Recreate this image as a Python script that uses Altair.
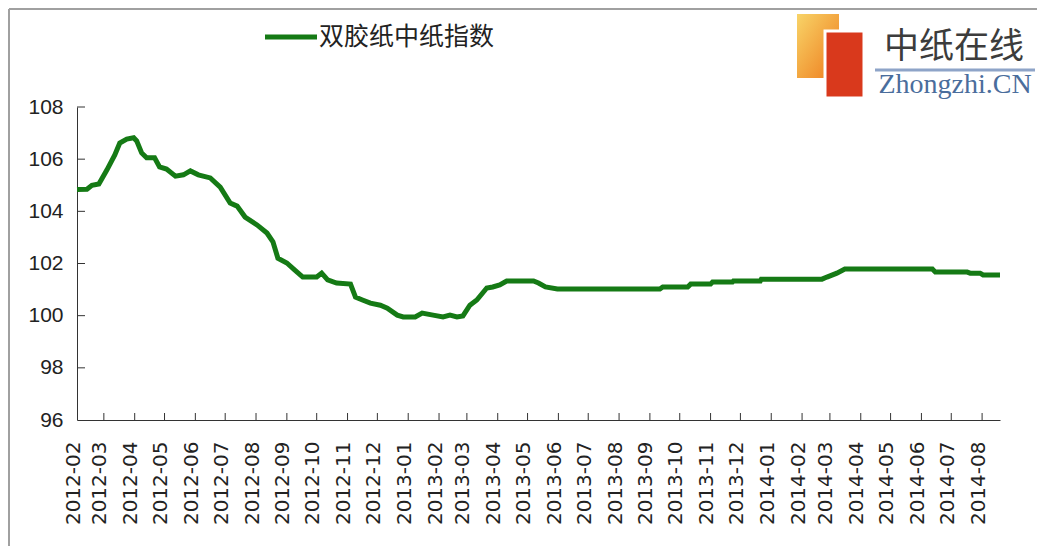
import altair as alt
import pandas as pd

# ---- data ----
dates = [
    "2012-02-03", "2012-02-13", "2012-02-18", "2012-02-25", "2012-03-04", "2012-03-12",
    "2012-03-17", "2012-03-24", "2012-03-31", "2012-04-03", "2012-04-08", "2012-04-13",
    "2012-04-21", "2012-04-26", "2012-05-03", "2012-05-12", "2012-05-20", "2012-05-27",
    "2012-06-04", "2012-06-16", "2012-06-26", "2012-07-06", "2012-07-13", "2012-07-21",
    "2012-08-02", "2012-08-12", "2012-08-18", "2012-08-23", "2012-09-01", "2012-09-09",
    "2012-09-17", "2012-10-01", "2012-10-06", "2012-10-12", "2012-10-21", "2012-11-04",
    "2012-11-09", "2012-11-16", "2012-11-24", "2012-12-04", "2012-12-11", "2012-12-21",
    "2012-12-27", "2013-01-08", "2013-01-15", "2013-01-26", "2013-02-05", "2013-02-12",
    "2013-02-19", "2013-02-25", "2013-03-04", "2013-03-11", "2013-03-21", "2013-03-27",
    "2013-04-03", "2013-04-10", "2013-05-07", "2013-05-12", "2013-05-19", "2013-05-31",
    "2013-09-11", "2013-09-14", "2013-10-09", "2013-10-12", "2013-11-01", "2013-11-03",
    "2013-11-23", "2013-11-24", "2013-12-21", "2013-12-22", "2014-02-21", "2014-02-26",
    "2014-03-08", "2014-03-16", "2014-06-12", "2014-06-15", "2014-07-17", "2014-07-20",
    "2014-07-30", "2014-08-02", "2014-08-19",
]
values = [
    104.84, 104.85, 105.00, 105.05, 105.58, 106.16,
    106.62, 106.77, 106.82, 106.70, 106.24, 106.05,
    106.05, 105.70, 105.62, 105.35, 105.40, 105.55,
    105.40, 105.28, 104.93, 104.32, 104.20, 103.78,
    103.48, 103.17, 102.83, 102.20, 102.02, 101.75,
    101.48, 101.48, 101.63, 101.37, 101.25, 101.21,
    100.71, 100.60, 100.48, 100.40, 100.29, 100.02,
    99.95, 99.95, 100.10, 100.02, 99.95, 100.02,
    99.95, 99.99, 100.40, 100.60, 101.06, 101.10,
    101.18, 101.33, 101.33, 101.25, 101.10, 101.02,
    101.02, 101.10, 101.10, 101.21, 101.21, 101.29,
    101.29, 101.33, 101.33, 101.40, 101.40, 101.48,
    101.63, 101.79, 101.79, 101.67, 101.67, 101.63,
    101.63, 101.56, 101.56,
]
series_name = "双胶纸中纸指数"

x_start = "2012-02-03"
x_end = "2014-08-19"
month_ticks = [
    "2012-03-01", "2012-04-01", "2012-05-01", "2012-06-01", "2012-07-01", "2012-08-01",
    "2012-09-01", "2012-10-01", "2012-11-01", "2012-12-01", "2013-01-01", "2013-02-01",
    "2013-03-01", "2013-04-01", "2013-05-01", "2013-06-01", "2013-07-01", "2013-08-01",
    "2013-09-01", "2013-10-01", "2013-11-01", "2013-12-01", "2014-01-01", "2014-02-01",
    "2014-03-01", "2014-04-01", "2014-05-01", "2014-06-01", "2014-07-01", "2014-08-01",
]
label_dates = [x_start] + month_ticks
y_ticks = [96, 98, 100, 102, 104, 106, 108]

# ---- layout ----
W, H = 923, 313
GREEN = "#157a15"
AXIS = "#333333"


def dt(s):
    y, m, d = (int(p) for p in s.split("-"))
    return alt.DateTime(year=y, month=m, date=d, utc=True)


df = pd.DataFrame({"date": dates, "value": values})
tick_df = pd.DataFrame({"date": month_ticks})
ytick_df = pd.DataFrame({"value": y_ticks[1:]})
one = pd.DataFrame({"a": [0]})

x_scale = alt.Scale(type="utc", domain=[dt(x_start), dt(x_end)])
y_scale = alt.Scale(domain=[96, 108], nice=False, zero=False)

x_axis = alt.Axis(
    values=[dt(s) for s in label_dates], format="%Y-%m", labelAngle=270,
    labelFont="DejaVu Sans", labelFontSize=20, labelColor="#222222",
    labelPadding=21, labelOffset=-4, labelFlush=False, labelOverlap=False,
    labelBound=False, labelSeparation=0, ticks=False, grid=False,
    domainColor=AXIS, title=None,
)
y_axis = alt.Axis(
    values=y_ticks, labelFont="Liberation Sans", labelFontSize=21,
    labelColor="#222222", labelPadding=14, ticks=False, grid=False,
    domainColor=AXIS, title=None,
)

line = alt.Chart(df).mark_line(color=GREEN, strokeWidth=5, clip=False).encode(
    x=alt.X("date:T", scale=x_scale, axis=x_axis),
    y=alt.Y("value:Q", scale=y_scale, axis=y_axis),
)

xticks = alt.Chart(tick_df).mark_rule(color=AXIS, strokeWidth=1).encode(
    x=alt.X("date:T", scale=x_scale, axis=x_axis),
    y=alt.value(H - 7), y2=alt.value(H),
)
yticks = alt.Chart(ytick_df).mark_rule(color=AXIS, strokeWidth=1).encode(
    y=alt.Y("value:Q", scale=y_scale, axis=y_axis),
    x=alt.value(0), x2=alt.value(8),
)

# outer frame (top and left edges visible in the reference)
frame_top = alt.Chart(one).mark_rule(color="#a0a0a0", strokeWidth=2).encode(
    x=alt.value(-68), x2=alt.value(960), y=alt.value(-98)
)
frame_left = alt.Chart(one).mark_rule(color="#a0a0a0", strokeWidth=2).encode(
    x=alt.value(-68), y=alt.value(-98), y2=alt.value(439)
)

# legend
leg_line = alt.Chart(one).mark_rule(color=GREEN, strokeWidth=5).encode(
    x=alt.value(188), x2=alt.value(240), y=alt.value(-70)
)
leg_text = alt.Chart(one).mark_text(
    text=series_name, align="left", baseline="middle",
    font="Noto Sans CJK SC", fontSize=25, color="#222222",
).encode(x=alt.value(242), y=alt.value(-70))

# logo
logo_orange = alt.Chart(one).mark_rect(
    fill=alt.Gradient(
        gradient="linear",
        stops=[alt.GradientStop(color="#f8d468", offset=0),
               alt.GradientStop(color="#ee7b1c", offset=1)],
        x1=0, y1=0, x2=1, y2=1,
    )
).encode(x=alt.value(720), x2=alt.value(762), y=alt.value(-93), y2=alt.value(-29))
logo_red = alt.Chart(one).mark_rect(
    fill="#d9391c", stroke="white", strokeWidth=3
).encode(x=alt.value(748), x2=alt.value(787), y=alt.value(-76), y2=alt.value(-9))
logo_cn = alt.Chart(one).mark_text(
    text="中纸在线", align="center", baseline="middle",
    font="Noto Sans CJK SC", fontSize=35, color="#3c3c3c",
).encode(x=alt.value(877), y=alt.value(-60))
logo_bar = alt.Chart(one).mark_rule(color="#8ea4c8", strokeWidth=3).encode(
    x=alt.value(798), x2=alt.value(958), y=alt.value(-37)
)
logo_en = alt.Chart(one).mark_text(
    text="Zhongzhi.CN", align="center", baseline="middle",
    font="Liberation Serif", fontSize=28, color="#4a6d9c",
).encode(x=alt.value(878), y=alt.value(-22))

chart = alt.layer(
    frame_top, frame_left, logo_orange, logo_red, logo_cn, logo_bar, logo_en,
    leg_line, leg_text, xticks, yticks, line,
).properties(
    width=W, height=H, padding=0, background="white"
).configure_view(stroke=None).configure_axis(labelOverlap=False)

chart.save("out.html", embed_options={"renderer": "svg", "actions": False})
